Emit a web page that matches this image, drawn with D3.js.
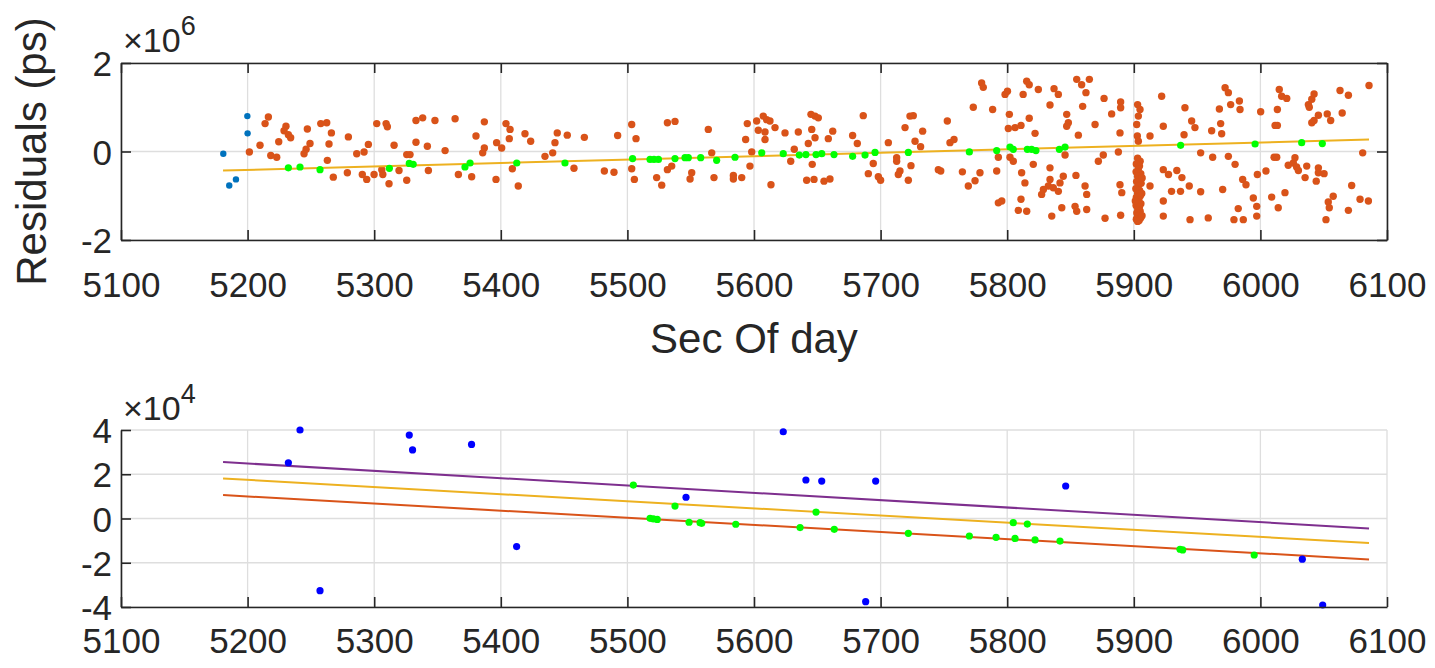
<!DOCTYPE html>
<html><head><meta charset="utf-8">
<script src="https://cdn.jsdelivr.net/npm/d3@7"></script>
<style>
body{margin:0;background:#fff}
svg{display:block}
text{font-family:"Liberation Sans",Arial,Helvetica,sans-serif;fill:#262626}
</style>
</head><body>
<svg id="c" width="1435" height="668"></svg>
<script>
// ---------------- data ----------------
const xTicks = [5100,5200,5300,5400,5500,5600,5700,5800,5900,6000,6100];
const topYTicks = [-2,0,2];
const botYTicks = [-4,-2,0,2,4];
const xLabel = "Sec Of day";
const yLabelTop = "Residuals (ps)";
const topExponent = "6";
const botExponent = "4";

// top panel (values in units of 1e6 ps)
const topBlue = [[5180.8,-0.05],[5199.8,0.80],[5200,0.41],[5190.8,-0.63],[5185.5,-0.77]];
const topOrange = [
[5216.4,0.78],[5213.8,0.63],[5209.8,0.14],[5201.4,-0.01],[5218.3,-0.09],[5223,-0.13],[5224.6,0.22],[5230.3,0.57],[5228.8,0.47],[5232.2,0.38],[5234,0.31],[5247.2,0.51],[5249.3,0.18],[5246.2,0.05],[5244.6,-0.05],[5257.8,0.63],[5262.5,0.65],[5266.2,0.42],[5264.3,0.17],[5263,-0.20],[5267.7,-0.58],[5279.6,0.33],[5278.8,-0.48],[5286.2,-0.05],[5292,-0.01],[5295.4,0.16],[5290.6,-0.52],[5294.1,-0.63],[5299.9,-0.52],[5302,0.63],[5309.4,0.63],[5310.4,0.56],[5306,-0.41],[5306.8,-0.52],[5311.7,-0.73],[5315.7,0.14],[5319.6,-0.43],[5325.7,-0.07],[5328.3,-0.07],[5325.7,-0.65],[5333,0.70],[5338.3,0.76],[5348,0.70],[5333,0.21],[5342,0.12],[5342.8,-0.43],[5356,0.02],[5363.9,0.74],[5366.5,-0.52],
[5387,0.67],[5380.4,0.35],[5387,0.08],[5385.7,-0.03],[5377,-0.57],[5396.7,0.20],[5400.7,0.08],[5404.1,0.63],[5407.3,0.50],[5406.7,0.29],[5396.2,-0.63],[5409.1,-0.39],[5413.8,-0.78],[5419.1,0.40],[5423.6,0.23],[5434.9,-0.11],[5441,-0.03],[5442.8,0.20],[5444.6,0.42],[5452.5,0.37],[5457.8,-0.38],[5466,0.32],[5481.8,-0.44],[5489.4,-0.47],[5492.3,0.36],[5503.4,0.61],[5506.8,0.29],[5503.4,-0.39],[5505.5,-0.63],[5523.1,-0.59],[5527.1,-0.76],[5531.6,-0.41],[5535,-0.33],[5531.6,0.65],[5537.6,0.68],[5549.5,-0.62],[5550.8,-0.48],[5563.9,0.50],
[5566.6,-0.03],[5568.4,-0.59],[5583.7,-0.54],[5583.7,-0.62],[5590.3,-0.59],[5593.4,0.27],[5594.7,0.63],[5596.8,-0.33],[5598.2,-0.01],[5602.1,0.69],[5607.3,0.80],[5610,0.72],[5612.6,0.69],[5603.4,0.48],[5608.7,0.44],[5608.7,0.27],[5616.6,0.54],[5613.4,-0.75],[5624.5,0.42],[5629,-0.22],[5631.8,0.05],[5635,0.44],[5642.9,0.18],[5645.6,0.50],[5645,0.84],[5648.2,0.80],[5650.8,0.76],[5648.2,0.31],[5646,-0.29],[5641.6,-0.65],[5647.4,-0.63],[5655.3,-0.67],[5660,-0.62],[5658.7,0.29],[5662.2,0.46],[5677.9,0.36],[5681.6,0.18],[5686.3,0.81],[5690.3,-0.50],[5694.2,-0.27],[5698.2,-0.57],[5700,-0.65],[5706.1,0.20],[5712.7,-0.14],[5712.7,-0.22],[5715.3,-0.44],[5714,-0.52],[5719.3,0.54],[5723.2,0.80],[5725.8,0.81],[5727.2,0.23],[5731.6,0.11],[5733.2,0.46],[5724,-0.32],[5721.9,-0.65],[5745.6,-0.41],[5747.5,-0.44],[5752.7,0.69],[5754.8,0.20],[5758,0.27],
[5779.8,1.55],[5781.1,1.45],[5773.2,1.00],[5788.5,0.95],[5764.6,-0.46],[5774.6,-0.66],[5769.3,-0.78],[5778.5,-0.48],[5791.7,-0.44],[5793,-0.13],[5793,-1.16],[5795.7,-1.12],[5798.3,1.29],[5800.2,1.36],[5801.7,0.84],[5800.9,0.52],[5806.2,0.54],[5810.9,0.59],[5802.2,-0.13],[5804.8,-0.22],[5811.4,-0.48],[5814,-0.71],[5810.9,-1.08],[5808.8,-1.33],[5815.4,-1.35],[5812.6,1.29],[5815.4,1.59],[5817.4,1.51],[5824.6,1.40],[5817.4,0.75],[5822,0.41],[5820.6,-0.29],[5833.8,1.05],[5837,1.42],[5840.4,1.29],[5833.8,-0.37],[5833.8,-0.63],[5832.5,-0.78],[5828.6,-0.86],[5827.2,-0.97],[5836.4,-0.82],[5840.4,-0.90],[5841.7,-0.71],[5844.3,-0.56],[5835.2,-1.46],[5843.1,-1.27],[5847,0.84],[5848.3,0.65],[5847,0.57],[5845.7,-0.08],[5854.9,1.63],[5858.8,1.51],[5864.9,1.63],[5862.2,1.33],[5859.6,1.02],[5856.2,0.37],[5854.3,-0.54],[5861.5,-0.78],[5862.8,-0.97],[5853.6,-1.24],[5854.9,-1.35],[5862.8,-1.31],[5869.4,0.61],[5876.5,1.20],[5872,-0.22],[5875.9,-0.08],[5877.3,-1.51],[5882.5,0.85],[5889.6,1.12],[5889.6,0.99],[5889.1,0.42],[5887.8,-0.01],[5889.1,-0.75],[5890.5,-0.93],[5889.6,-1.44],
[5903,1.06],[5904.9,0.95],[5903.6,0.80],[5902.3,0.61],[5902.8,0.35],[5903.6,0.23],
[5903,-0.15],[5905,-0.22],[5902,-0.28],[5904.5,-0.33],[5903.5,-0.40],[5901.8,-0.46],[5905.5,-0.50],[5903,-0.56],[5904,-0.62],[5902.2,-0.68],[5905.8,-0.72],[5903.4,-0.78],[5901.6,-0.84],[5904.6,-0.88],[5903,-0.94],[5905.2,-1.00],[5902,-1.04],[5904,-1.09],[5903,-1.14],[5905.6,-1.18],[5901.8,-1.22],[5904.4,-1.26],[5903.2,-1.31],[5905,-1.35],[5902.4,-1.39],[5904,-1.43],[5903,-1.47],[5905.4,-1.50],[5902,-1.53],[5904.2,-1.56],[5903,-1.58],[5906.5,-1.45],[5906.3,-0.95],[5901.2,-1.12],[5906.6,-0.60],
[5912.8,0.35],[5923.3,0.57],[5922,1.25],[5923.3,-0.41],[5923.3,-1.12],[5923.3,-1.46],[5912.8,-0.78],
[5940.4,0.99],[5945.7,0.69],[5948.3,0.54],[5939.7,0.38],[5927.4,-0.52],[5934,-0.43],[5938,-0.59],[5929.8,-0.90],[5936.9,-0.90],[5943.8,-0.78],[5944.4,-1.54],[5952.8,-0.03],[5952.8,-0.91],[5958.8,-1.50],[5961.5,0.47],[5962.3,-0.13],[5967.6,0.96],[5968.6,0.63],[5969.4,0.40],[5972.1,1.44],[5974.7,1.33],[5976.5,1.06],[5983.4,1.14],[5983.9,0.95],[5974.7,-0.11],[5980,-0.29],[5970.2,-0.86],[5986,-0.63],[5988.6,-0.75],[5982.5,-1.29],[5979.1,-1.54],[5986.5,-1.54],[5994.4,-1.05],[5997.1,-1.24],[5997.1,-1.46],[5997.6,-0.52],[6000.2,0.90],[6004.4,-0.44],[6008.9,-1.03],[6011.6,0.59],[6013.4,0.59],[6013.4,0.95],[6010.8,-0.13],[6012.9,-0.13],[6014.9,1.40],[6016.8,1.25],[6020.8,1.20],[6014.1,-1.27],[6019.4,-0.93],[6022,-0.31],[6026,-0.26],[6027.3,-0.14],[6028.6,-0.35],[6030,-0.43],[6036.6,-0.33],[6035.3,-0.59],[6037.9,1.06],[6040.6,1.18],[6042.4,1.30],[6038.6,1.00],[6040.6,0.65],[6042.4,0.70],[6045.8,0.82],[6044.1,-0.67],[6045.8,-0.37],[6045.8,-0.48],[6050.3,-0.50],[6052.8,0.85],[6055.5,0.70],[6062.9,1.38],[6069.5,1.27],[6064.6,0.87],[6057.5,-1.01],[6053.6,-1.14],[6054.4,-1.27],[6051.8,-1.54],[6069.5,-1.33],[6072.1,-0.77],[6078.7,-1.08],[6085.3,-1.12],[6080.8,-0.03],[6085.8,1.49]
];
const topGreen = [[5232.2,-0.37],[5241.4,-0.35],[5257.2,-0.41],[5312,-0.38],[5327.7,-0.27],[5330.8,-0.29],[5371.7,-0.35],[5375.7,-0.26],[5412.6,-0.26],[5450.7,-0.26],[5504.1,-0.16],[5517.9,-0.18],[5521,-0.18],[5524.5,-0.18],[5537.6,-0.16],[5545.5,-0.14],[5548.1,-0.14],[5557.9,-0.14],[5570.5,-0.20],[5585,-0.13],[5606.1,-0.03],[5623.1,-0.05],[5635.8,-0.08],[5641,-0.07],[5649,-0.07],[5653.5,-0.05],[5663.2,-0.07],[5677.9,-0.11],[5687.7,-0.08],[5695.6,-0.02],[5721.9,-0.02],[5770.1,-0.01],[5791.7,0.02],[5802.2,0.10],[5804.8,0.05],[5815.9,0.05],[5819.3,0.05],[5822.7,0.02],[5841.2,0.05],[5845.7,0.10],[5937,0.14],[5995.8,0.17],[6032.6,0.20],[6048.9,0.18]];
const topFit = [[5180.6,-0.43],[6085.8,0.27]];

// bottom panel (values in units of 1e4)
const botBlue = [[5232.2,2.52],[5241.4,4.0],[5257.2,-3.26],[5327.7,3.77],[5330.3,3.10],[5376.9,3.35],[5412.5,-1.27],[5546.3,0.96],[5623.1,3.92],[5641,1.74],[5653.5,1.69],[5696.1,1.69],[5688.2,-3.76],[5846.2,1.47],[6033.1,-1.84],[6049.2,-3.91]];
const botGreen = [[5504.7,1.51],[5537.6,0.56],[5517.9,0.01],[5520.5,-0.02],[5523.6,-0.04],[5548.7,-0.17],[5557.4,-0.19],[5558.7,-0.22],[5585.6,-0.26],[5636.4,-0.41],[5649,0.29],[5663.4,-0.49],[5721.9,-0.67],[5770.1,-0.79],[5791.2,-0.85],[5804.8,-0.19],[5815.9,-0.25],[5806.2,-0.90],[5822,-0.97],[5841.7,-1.02],[5936.5,-1.39],[5938.6,-1.42],[5995.1,-1.65]];
const botPurple = [[5180.6,2.55],[6085.8,-0.45]];
const botYellow = [[5180.6,1.81],[6085.8,-1.11]];
const botRed = [[5180.6,1.06],[6085.8,-1.85]];

// ---------------- drawing ----------------
const svg = d3.select("#c");
const L = 121, R = 1387;
const axisColor = "#262626", gridColor = "#dedede";
const x = d3.scaleLinear().domain([5100,6100]).range([L,R]);
const yTop = d3.scaleLinear().domain([-2,2]).range([240,63]);
const yBot = d3.scaleLinear().domain([-4,4]).range([607,430]);
const tickFont = 35;
const labelFont = 42;
const fmt = d => String(d);

function grid(g, y, yTicks){
  g.append("g").selectAll("line").data(xTicks).join("line")
    .attr("x1",d=>x(d)).attr("x2",d=>x(d)).attr("y1",y.range()[0]).attr("y2",y.range()[1])
    .attr("stroke",gridColor).attr("stroke-width",1.3);
  g.append("g").selectAll("line").data(yTicks).join("line")
    .attr("y1",d=>y(d)).attr("y2",d=>y(d)).attr("x1",L).attr("x2",R)
    .attr("stroke",gridColor).attr("stroke-width",1.3);
}
function axes(g, y, yTicks, box, labelBase){
  const [b,t] = y.range();
  const ax = g.append("g").attr("transform",`translate(0,${b})`)
    .call(d3.axisBottom(x).tickValues(xTicks).tickFormat(fmt).tickSize(-10).tickSizeOuter(0).tickPadding(0));
  ax.selectAll("text").attr("dy",null).attr("y",labelBase).style("font-size",tickFont+"px");
  const ay = g.append("g").attr("transform",`translate(${L},0)`)
    .call(d3.axisLeft(y).tickValues(yTicks).tickFormat(fmt).tickSize(-10).tickSizeOuter(0).tickPadding(9));
  ay.selectAll("text").attr("dy","0.36em").style("font-size",tickFont+"px");
  if(box){
    g.append("g").attr("transform",`translate(0,${t})`)
      .call(d3.axisTop(x).tickValues(xTicks).tickFormat("").tickSize(-10).tickSizeOuter(0));
    g.append("g").attr("transform",`translate(${R},0)`)
      .call(d3.axisRight(y).tickValues(yTicks).tickFormat("").tickSize(-10).tickSizeOuter(0));
  }
  g.selectAll(".domain, .tick line").attr("stroke",axisColor).attr("stroke-width",1.6);
  g.selectAll(".tick text").attr("fill",axisColor).style("font-family",'"Liberation Sans",Arial,sans-serif');
}
function dots(g, data, y, color, r){
  g.append("g").selectAll("circle").data(data).join("circle")
    .attr("cx",d=>x(d[0])).attr("cy",d=>y(d[1])).attr("r",r).attr("fill",color);
}
function fitLine(g, data, y, color){
  g.append("path").datum(data)
    .attr("d",d3.line().x(d=>x(d[0])).y(d=>y(d[1])))
    .attr("fill","none").attr("stroke",color).attr("stroke-width",2);
}
function exponent(g, yPos, e){
  const t = g.append("text").attr("x",123).attr("y",yPos).style("font-size","34px");
  t.append("tspan").text("\u00d710");
  t.append("tspan").text(e).attr("dy",-17).style("font-size","27px");
}

// top panel
const gt = svg.append("g");
grid(gt, yTop, topYTicks);
dots(gt, topBlue, yTop, "#0072BD", 3.2);
dots(gt, topOrange, yTop, "#D95319", 3.7);
fitLine(gt, topFit, yTop, "#EDB120");
dots(gt, topGreen, yTop, "#00FF00", 3.6);
axes(gt, yTop, topYTicks, true, 57);
exponent(gt, 52, topExponent);
gt.append("text").attr("x",(L+R)/2).attr("y",353).attr("text-anchor","middle").style("font-size",labelFont+"px").text(xLabel);
gt.append("text").attr("transform",`translate(46,${(63+240)/2}) rotate(-90)`).attr("text-anchor","middle").style("font-size",labelFont+"px").text(yLabelTop);

// bottom panel
const gb = svg.append("g");
grid(gb, yBot, botYTicks);
fitLine(gb, botPurple, yBot, "#7E2F8E");
fitLine(gb, botYellow, yBot, "#EDB120");
fitLine(gb, botRed, yBot, "#D95319");
dots(gb, botBlue, yBot, "#0000FF", 3.6);
dots(gb, botGreen, yBot, "#00FF00", 3.6);
axes(gb, yBot, botYTicks, false, 46);
exponent(gb, 420, botExponent);
</script>
</body></html>
